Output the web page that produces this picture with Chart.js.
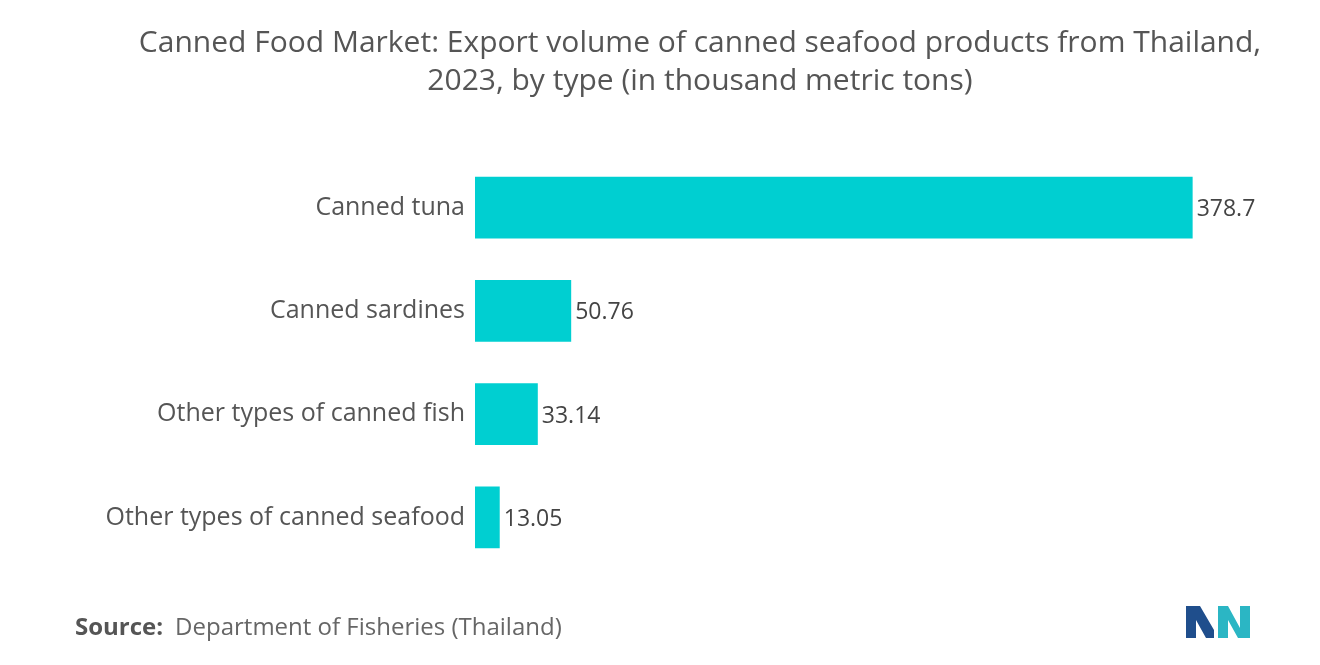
<!DOCTYPE html>
<html><head><meta charset="utf-8">
<script src="https://cdn.jsdelivr.net/npm/chart.js@4"></script>
<style>html,body{margin:0;padding:0;background:#fff}#w{width:1320px;height:665px}</style>
</head><body><div id="w"><canvas id="c"></canvas></div>
<script>
const categories = ["Canned tuna","Canned sardines","Other types of canned fish","Other types of canned seafood"];
const values = [378.7, 50.76, 33.14, 13.05];
const valueLabels = ["378.7","50.76","33.14","13.05"];
const titleLines = ["Canned Food Market: Export volume of canned seafood products from Thailand,","2023, by type (in thousand metric tons)"];

const deco = {
  id:'deco',
  afterDatasetsDraw(chart){
    const ctx=chart.ctx;
    const meta=chart.getDatasetMeta(0);
    ctx.save();
    ctx.font='23px "Open Sans", Roboto, sans-serif';
    ctx.fillStyle='#444';ctx.textBaseline='middle';ctx.textAlign='left';
    meta.data.forEach((b,i)=>ctx.fillText(valueLabels[i],b.x+4,b.y+2));
    ctx.restore();
  },
  afterDraw(chart){
    const ctx=chart.ctx;
    ctx.save();
    ctx.fillStyle='#555';ctx.textAlign='center';ctx.textBaseline='middle';
    ctx.font='30px "Open Sans", Roboto, sans-serif';
    ctx.fillText(titleLines[0],700,43);
    ctx.fillText(titleLines[1],700,81);
    ctx.textAlign='left';
    ctx.font='bold 24px "Open Sans", Roboto, sans-serif';
    ctx.fillStyle='#555';
    ctx.fillText('Source:',75,628);
    const w=ctx.measureText('Source:').width;
    ctx.font='24px "Open Sans", Roboto, sans-serif';
    ctx.fillStyle='#666';
    ctx.fillText('Department of Fisheries (Thailand)',75+w+12,628);
    ctx.fillStyle='#1f4e8c';
    ctx.beginPath();ctx.moveTo(1186,638);ctx.lineTo(1186,606);ctx.lineTo(1200,606);ctx.lineTo(1214,630);ctx.lineTo(1214,638);ctx.lineTo(1206,638);ctx.lineTo(1196,620);ctx.lineTo(1196,638);ctx.closePath();ctx.fill();
    ctx.fillStyle='#2bb6c4';
    ctx.beginPath();ctx.moveTo(1218,638);ctx.lineTo(1218,606);ctx.lineTo(1228,606);ctx.lineTo(1240,628);ctx.lineTo(1240,606);ctx.lineTo(1250,606);ctx.lineTo(1250,638);ctx.lineTo(1238,638);ctx.lineTo(1228,620);ctx.lineTo(1228,638);ctx.closePath();ctx.fill();
    ctx.restore();
  }
};

new Chart(document.getElementById('c'),{
  type:'bar',
  data:{labels:categories,datasets:[{data:values,backgroundColor:'#00cfd1',categoryPercentage:0.6,barPercentage:1}]},
  options:{
    indexAxis:'y',responsive:true,maintainAspectRatio:false,animation:false,
    layout:{padding:{top:156,bottom:96,left:0,right:87}},
    plugins:{legend:{display:false},tooltip:{enabled:false}},
    scales:{
      x:{min:0,max:400,display:false,grid:{display:false}},
      y:{grid:{display:false},border:{display:false},
         afterFit(s){s.width=475;},
         ticks:{padding:2,color:'#555',font:{size:25,family:'"Open Sans", Roboto, sans-serif'}}}
    }
  },
  plugins:[deco]
});
</script></body></html>
